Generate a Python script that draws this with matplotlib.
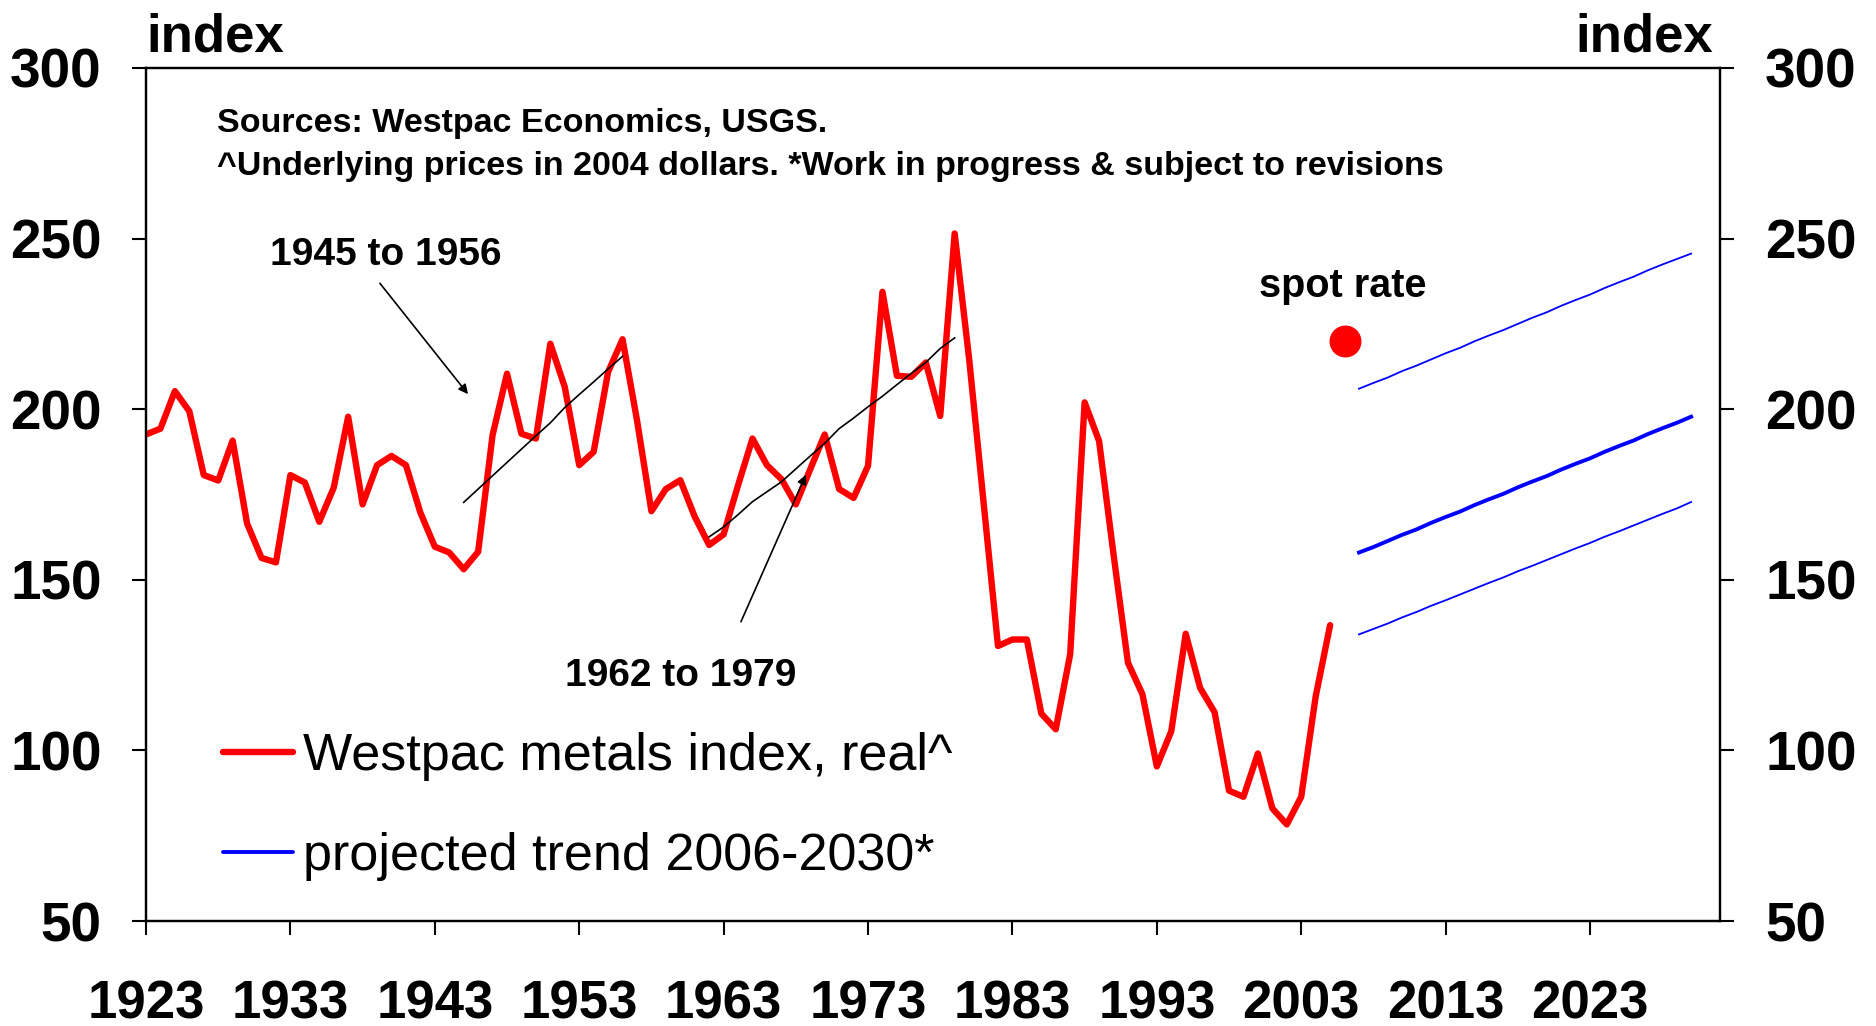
import matplotlib
matplotlib.use("Agg")
import matplotlib.pyplot as plt
from matplotlib.lines import Line2D

plt.rcParams['font.family'] = ['Liberation Sans', 'DejaVu Sans']

# ---------------- data ----------------
years = list(range(1923, 2006))
metals_index = [
    192.6, 194.3, 205.3, 199.4, 180.7, 179.1, 190.8, 166.5, 156.4, 155.1,
    180.7, 178.5, 167.0, 177.0, 197.8, 172.1, 183.6, 186.3, 183.6, 169.7,
    159.7, 158.0, 153.1, 158.2, 192.4, 210.4, 192.8, 191.4, 219.2, 206.5,
    183.6, 187.5, 210.9, 220.5, 196.8, 170.1, 176.6, 179.2, 168.5, 160.2,
    163.3, 177.7, 191.4, 183.6, 179.5, 172.1, 182.4, 192.6, 176.6, 174.0,
    183.4, 234.4, 209.8, 209.5, 213.7, 198.0, 251.5, 214.8, 172.8, 130.6,
    132.5, 132.5, 110.8, 106.2, 128.2, 202.0, 190.7, 157.5, 125.7, 116.5,
    95.3, 105.6, 134.2, 118.3, 111.2, 88.2, 86.4, 99.1, 83.0, 78.3,
    86.4, 115.8, 136.7,
]

proj_years = list(range(2007, 2031))
trend_mid = [158.0, 159.6, 161.4, 163.2, 164.8, 166.7, 168.4, 170.0, 171.9, 173.6,
             175.2, 177.1, 178.8, 180.4, 182.3, 184.0, 185.6, 187.5, 189.2, 190.8,
             192.7, 194.4, 196.0, 197.8]
trend_high = [206.0, 207.7, 209.3, 211.2, 212.8, 214.6, 216.4, 218.0, 219.9, 221.6,
              223.2, 225.0, 226.8, 228.4, 230.3, 232.0, 233.6, 235.5, 237.2, 238.8,
              240.7, 242.4, 244.0, 245.6]
trend_low = [134.0, 135.6, 137.2, 139.0, 140.6, 142.4, 144.0, 145.7, 147.4, 149.1,
             150.7, 152.5, 154.1, 155.8, 157.5, 159.2, 160.8, 162.6, 164.2, 165.9,
             167.6, 169.3, 170.9, 172.8]

trend1_years = list(range(1945, 1957))
trend1_vals = [172.7, 176.6, 180.5, 184.4, 188.3, 192.2, 196.0, 200.5, 204.3, 208.0, 211.8, 215.5]
trend2_years = list(range(1962, 1980))
trend2_vals = [162.6, 165.5, 169.1, 172.9, 175.8, 178.7, 182.5, 186.3, 190.0, 194.3,
               197.4, 200.7, 203.8, 207.2, 210.5, 213.7, 217.8, 220.9]

spot_year = [2006]
spot_value = [220.0]

x_ticks = list(range(1923, 2031, 10))
y_ticks = [50, 100, 150, 200, 250, 300]

# ---------------- figure ----------------
W, H = 1876, 1026
fig = plt.figure(figsize=(W / 100, H / 100), dpi=100)
ax = fig.add_axes([146 / W, 1 - 921 / H, (1720 - 146) / W, (921 - 68) / H])

ax.plot(years, metals_index, color='#ff0000', lw=4.6, solid_joinstyle='round',
        solid_capstyle='round', zorder=3)
ax.plot(proj_years, trend_high, color='#0000ff', lw=1.3, zorder=3)
ax.plot(proj_years, trend_mid, color='#0000ff', lw=2.8, zorder=3)
ax.plot(proj_years, trend_low, color='#0000ff', lw=1.3, zorder=3)
ax.plot(trend1_years, trend1_vals, color='black', lw=1.2, zorder=4)
ax.plot(trend2_years, trend2_vals, color='black', lw=1.2, zorder=4)
ax.plot(spot_year, spot_value, 'o', color='#ff0000', markersize=22, zorder=5)

ax.set_xlim(1923, 2032)
ax.set_ylim(50, 300)
ax.set_xticks(x_ticks)
ax.set_yticks(y_ticks)

for s in ax.spines.values():
    s.set_linewidth(1.6)
    s.set_color('black')

ax.tick_params(axis='x', direction='out', length=10, width=1.5, pad=32,
               labelsize=38)
ax.tick_params(axis='y', direction='out', length=10, width=1.5, pad=22,
               labelsize=39.5)
for lab in ax.get_xticklabels() + ax.get_yticklabels():
    lab.set_fontweight('bold')

# right-hand axis (same scale)
axr = ax.twinx()
axr.set_ylim(ax.get_ylim())
axr.set_yticks(y_ticks)
axr.tick_params(axis='y', direction='out', length=10, width=1.5, pad=22.5,
                labelsize=39.5)
for lab in axr.get_yticklabels():
    lab.set_fontweight('bold')
for s in axr.spines.values():
    s.set_linewidth(1.6)

# annotations
ax.text(0.0, 1.036, 'index', transform=ax.transAxes, ha='left', va='center',
        fontsize=38, fontweight='bold')
ax.text(0.9956, 1.036, 'index', transform=ax.transAxes, ha='right', va='center',
        fontsize=38, fontweight='bold')

ax.text(1927.9, 283.8, 'Sources: Westpac Economics, USGS.', ha='left', va='center',
        fontsize=24.5, fontweight='bold')
ax.text(1927.9, 271.2,
        '^Underlying prices in 2004 dollars. *Work in progress & subject to revisions',
        ha='left', va='center', fontsize=24.5, fontweight='bold')

ax.annotate('', xy=(1945.3, 204.4), xytext=(1939.2, 236.9),
            arrowprops=dict(arrowstyle='-|>', color='black', lw=1.2,
                            mutation_scale=14, shrinkA=0, shrinkB=0))
ax.text(1939.6, 245.3, '1945 to 1956', ha='center', va='center', fontsize=28,
        fontweight='bold')

ax.annotate('', xy=(1968.7, 180.8), xytext=(1964.2, 137.7),
            arrowprops=dict(arrowstyle='-|>', color='black', lw=1.2,
                            mutation_scale=14, shrinkA=0, shrinkB=0))
ax.text(1960.0, 121.8, '1962 to 1979', ha='center', va='center', fontsize=28,
        fontweight='bold')

ax.text(2005.9, 236.2, 'spot rate', ha='center', va='center', fontsize=28.5,
        fontweight='bold')

handles = [Line2D([], [], color='#ff0000', lw=4.6, solid_capstyle='round'),
           Line2D([], [], color='#0000ff', lw=2.8, solid_capstyle='round')]
ax.legend(handles, ['Westpac metals index, real^', 'projected trend 2006-2030*'],
          loc='center left', bbox_to_anchor=(0.049, 0.134), frameon=False,
          fontsize=37.5, handlelength=1.35, handletextpad=0.18, labelspacing=0.97,
          borderpad=0, borderaxespad=0)

fig.savefig('out.png', dpi=100, facecolor='white')
